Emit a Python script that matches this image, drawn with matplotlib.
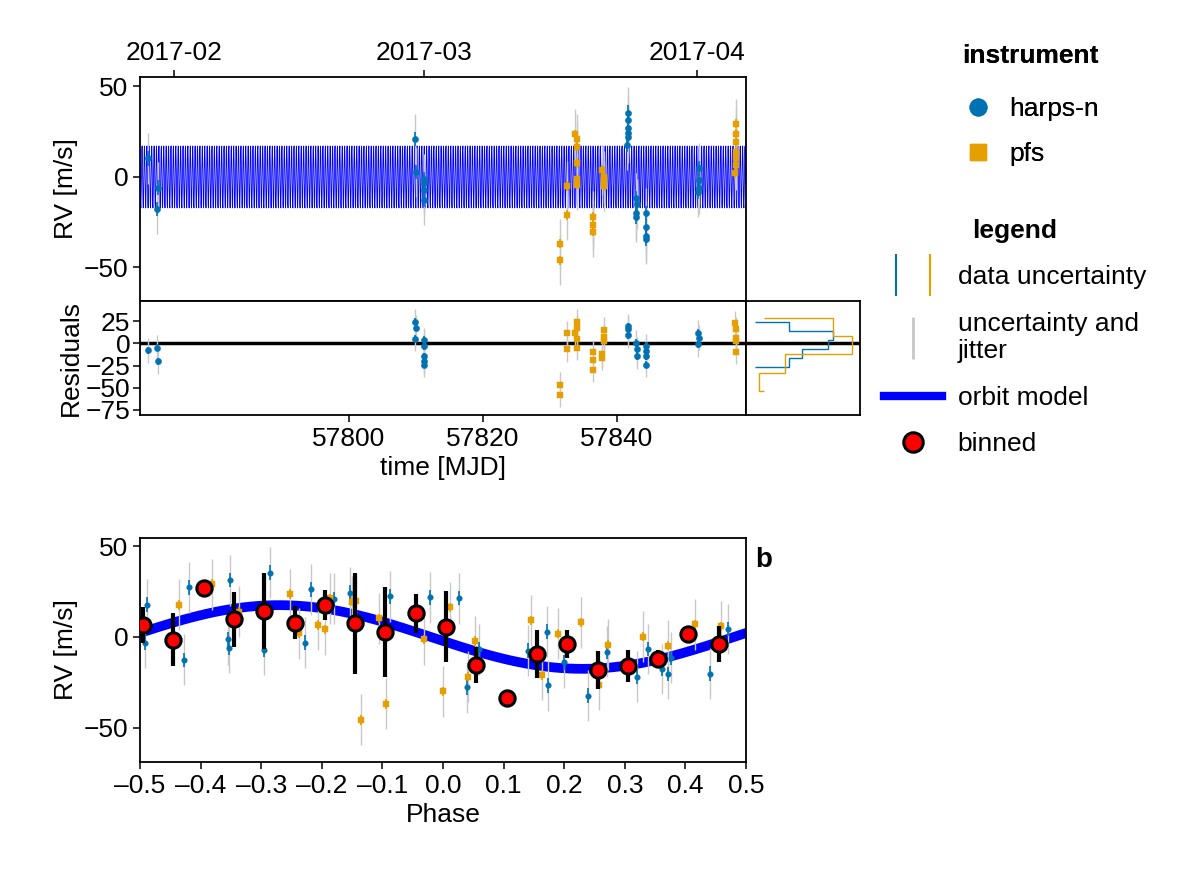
import numpy as np
import matplotlib.pyplot as plt
from matplotlib.lines import Line2D
from matplotlib.legend_handler import HandlerTuple

plt.rcParams['font.family'] = 'Liberation Sans'
plt.rcParams['font.size'] = 19

BLUE = '#0072b2'
ORANGE = '#e69f00'
GREY = '#c8c8c8'

# ---- time series (MJD, m/s) ----
harps_t = [57770.0, 57771.5, 57771.4, 57809.9, 57810.0, 57811.2, 57811.2, 57811.2, 57811.2,
           57841.6, 57841.6, 57841.6, 57841.7, 57841.7, 57841.5, 57842.9, 57843.0, 57842.9, 57842.9,
           57844.3, 57844.3, 57844.3, 57844.3, 57852.2, 57852.2, 57852.2, 57852.1]
harps_rv = [10.3, -5.9, -17.7, 21.0, 2.8, -1.3, -3.1, -7.2, -12.7,
            35.5, 31.5, 26.9, 24.5, 21.9, 17.7, -11.8, -14.9, -20.0, -21.9,
            -20.0, -27.4, -32.6, -34.0, 4.8, -1.7, -6.3, -8.1]
pfs_t = [57831.5, 57831.5, 57832.6, 57832.6, 57833.8, 57834.0, 57834.0, 57834.1, 57834.1, 57834.1,
         57836.4, 57836.4, 57836.4, 57837.8, 57838.0, 57838.1, 57838.1,
         57857.7, 57857.8, 57857.8, 57857.8, 57857.8, 57857.7, 57857.6]
pfs_rv = [-37.0, -45.9, -5.0, -21.0, 23.6, 20.8, 16.8, 7.9, -1.3, -4.4,
          -21.9, -26.5, -30.2, 3.9, 0.2, -1.7, -5.0,
          29.3, 23.8, 19.5, 14.0, 10.3, 6.6, 2.0]

# ---- residuals ----
harps_res_t = [57770.0, 57771.4, 57771.5, 57809.9, 57810.0, 57809.9, 57811.2, 57811.2, 57811.2, 57811.2, 57811.2,
               57841.6, 57841.6, 57841.7, 57842.9, 57843.0, 57843.0, 57844.3, 57844.3, 57844.3, 57844.3,
               57852.1, 57852.2, 57852.1]
harps_res = [-7.6, -4.9, -20.0, 24.2, 17.4, 5.3, 3.8, -3.0, -14.4, -20.0, -23.9,
             19.0, 15.9, 9.0, 0.8, -6.8, -14.4, -3.0, -8.7, -14.4, -23.9,
             12.1, 6.4, -1.1]
pfs_res_t = [57831.5, 57831.5, 57832.6, 57832.6, 57834.1, 57834.0, 57833.8, 57834.0, 57834.1,
             57836.4, 57836.4, 57836.4, 57837.8, 57837.8, 57838.0, 57838.1, 57838.1,
             57857.6, 57857.7, 57857.8, 57857.8, 57857.8]
pfs_res = [-46.6, -58.0, 11.4, -6.8, 24.2, 17.4, 12.1, 5.3, -4.9,
           -9.8, -18.2, -29.5, -12.5, -16.3, 2.7, 15.2, 7.6,
           22.7, 15.9, 6.4, 3.0, -9.8]

# ---- residual histograms (edges in m/s, counts) ----
harps_hist_edges = [-26.8, -17.0, -6.6, 4.0, 13.6, 23.9]
harps_hist_counts = [3.1, 4.3, 6.6, 7.1, 3.1]
pfs_hist_edges = [-53.4, -33.0, -12.5, 8.2, 28.4]
pfs_hist_counts = [0.4, 2.7, 8.8, 7.1]

# ---- phase-folded data ----
harps_ph = [-0.489, -0.491, -0.419, -0.428, -0.351, -0.354, -0.353, -0.285, -0.296, -0.228, -0.218,
            -0.180, -0.153, -0.087, -0.021, 0.027, 0.039, 0.059, 0.140, 0.171, 0.173, 0.200, 0.239,
            0.271, 0.320, 0.339, 0.362, 0.372, 0.377, 0.440, 0.471]
harps_ph_rv = [17.8, -3.1, 27.3, -12.6, 31.3, -1.3, -5.9, 35.3, -7.1, -3.1, 26.2,
               20.9, 24.4, 22.3, 21.8, 21.4, -27.7, -6.8, -7.5, 2.9, -26.6, -13.9, -32.2,
               -8.2, -21.8, -6.6, -17.6, -20.3, -11.5, -20.1, 4.4]
pfs_ph = [-0.436, -0.381, -0.337, -0.252, -0.237, -0.207, -0.194, -0.187, -0.150, -0.143, -0.136,
          -0.105, -0.094, -0.032, 0.000, 0.012, 0.042, 0.052, 0.145, 0.164, 0.189, 0.228, 0.258,
          0.272, 0.330, 0.372, 0.416, 0.459]
pfs_ph_rv = [17.6, 29.1, 13.9, 23.6, 2.0, 6.6, 4.2, 21.2, 19.4, 20.0, -45.6,
             10.3, -36.8, -1.3, -29.8, 16.3, -21.8, -2.2, 9.3, -20.9, 1.8, 8.1, -26.2,
             -4.2, 0.2, -4.8, 7.1, 5.9]

bin_ph = [-0.495, -0.445, -0.395, -0.345, -0.295, -0.245, -0.195, -0.145, -0.095, -0.045,
          0.005, 0.055, 0.105, 0.155, 0.205, 0.255, 0.305, 0.355, 0.405, 0.455]
bin_rv = [6.6, -1.6, 26.7, 9.7, 14.3, 7.9, 17.6, 7.5, 2.9, 13.0,
          5.7, -15.4, -33.3, -9.3, -4.0, -18.1, -15.9, -12.1, 1.6, -4.0]
bin_err = [10.0, 14.6, 0.0, 15.0, 21.0, 9.0, 8.0, 27.7, 24.7, 10.8,
           19.4, 10.0, 0.0, 13.3, 7.6, 10.5, 8.8, 5.0, 0.0, 9.8]

# top-axis date ticks (MJD positions) and bottom MJD ticks
date_ticks = [57773.9, 57811.2, 57851.9]
date_labels = ['2017-02', '2017-03', '2017-04']
mjd_ticks = [57800, 57820, 57840]

# orbit model parameters
K = 17.5
PERIOD = 0.36     # days
PH0 = 0.02

harps_err, pfs_err, jit_err = 4.0, 2.5, 14.0

W, H = 1200, 880
fig = plt.figure(figsize=(W / 100, H / 100), dpi=100)


def axes_px(x0, y0, x1, y1):
    return fig.add_axes([x0 / W, 1 - y1 / H, (x1 - x0) / W, (y1 - y0) / H])


def draw_points(ax, xs, ys, color, marker, err, ms):
    ax.errorbar(xs, ys, yerr=jit_err, fmt='none', ecolor=GREY, elinewidth=1.0, zorder=2)
    ax.errorbar(xs, ys, yerr=err, fmt='none', ecolor=color, elinewidth=1.2, zorder=3)
    ax.plot(xs, ys, marker, color=color, ms=ms, mec=color, mew=0.3, ls='none', zorder=4)


def minus(vals):
    return [str(v).replace('-', '\u2212') for v in vals]


t_lo, t_hi = 57768.8, 57859.25

# ---- top panel ----
ax1 = axes_px(140, 77, 746, 301)
tm = np.arange(t_lo, t_hi, PERIOD / 8)
ax1.plot(tm, K * np.sin(-2 * np.pi * (tm / PERIOD + PH0)), color='blue', lw=0.6, zorder=1)
draw_points(ax1, harps_t, harps_rv, BLUE, 'o', harps_err, 4.5)
draw_points(ax1, pfs_t, pfs_rv, ORANGE, 's', pfs_err, 4)
ax1.set_xlim(t_lo, t_hi)
ax1.set_ylim(-68.5, 55.2)
ax1.set_yticks([-50, 0, 50])
ax1.set_yticklabels(minus([-50, 0, 50]))
ax1.set_ylabel('RV [m/s]')
ax1.xaxis.tick_top()
ax1.set_xticks(date_ticks)
ax1.set_xticklabels(date_labels)

# ---- residuals ----
ax2 = axes_px(140, 301, 746, 415)
ax2.axhline(0, color='black', lw=2.5, zorder=1)
draw_points(ax2, harps_res_t, harps_res, BLUE, 'o', harps_err, 4.5)
draw_points(ax2, pfs_res_t, pfs_res, ORANGE, 's', pfs_err, 4)
ax2.set_xlim(t_lo, t_hi)
ax2.set_ylim(-80.7, 47.7)
ax2.set_yticks([-75, -50, -25, 0, 25])
ax2.set_yticklabels(minus([-75, -50, -25, 0, 25]))
ax2.tick_params(axis='y', pad=2)
ax2.set_ylabel('Residuals', labelpad=2)
ax2.set_xticks(mjd_ticks)
ax2.set_xticklabels([str(v) for v in mjd_ticks])
ax2.set_xlabel('time [MJD]')

# ---- residual histogram ----
ax3 = axes_px(746, 301, 860, 415)
ax3.axhline(0, color='black', lw=2.5, zorder=1)
ax3.stairs(harps_hist_counts, harps_hist_edges, baseline=0, orientation='horizontal',
           color=BLUE, lw=1.0)
ax3.stairs(pfs_hist_counts, pfs_hist_edges, baseline=0.8, orientation='horizontal',
           color=ORANGE, lw=1.0)
ax3.set_xlim(-0.82, 9.55)
ax3.set_ylim(-80.7, 47.7)
ax3.set_xticks([])
ax3.set_yticks([])

# ---- phase panel ----
ax4 = axes_px(140, 538, 746, 762)
pm = np.linspace(-0.5, 0.5, 400)
ax4.plot(pm, K * np.sin(-2 * np.pi * (pm + PH0)), color='blue', lw=7, zorder=1)
draw_points(ax4, harps_ph, harps_ph_rv, BLUE, 'o', harps_err, 4)
draw_points(ax4, pfs_ph, pfs_ph_rv, ORANGE, 's', pfs_err, 4)
ax4.errorbar(bin_ph, bin_rv, yerr=bin_err, fmt='o', color='red', mec='black', mew=2.2,
             ms=11, ecolor='black', elinewidth=3, zorder=5)
ax4.set_xlim(-0.5, 0.5)
ax4.set_ylim(-68.7, 54.4)
ax4.set_yticks([-50, 0, 50])
ax4.set_yticklabels(minus([-50, 0, 50]))
ticks = np.round(np.arange(-0.5, 0.51, 0.1), 1)
ax4.set_xticks(ticks)
ax4.set_xticklabels([f'{v:.1f}'.replace('-', '\u2013') if v != 0 else '0.0' for v in ticks])
ax4.set_xlabel('Phase')
ax4.set_ylabel('RV [m/s]')
ax4.text(1.015, 0.9, 'b', transform=ax4.transAxes, fontsize=20, fontweight='bold',
         ha='left', va='center')

for ax in (ax1, ax2, ax3, ax4):
    for s in ax.spines.values():
        s.set_linewidth(1.3)
    ax.tick_params(direction='out', length=5, width=1.1)

# ---- legends ----
inst = [Line2D([], [], marker='o', color=BLUE, ls='none', ms=12),
        Line2D([], [], marker='s', color=ORANGE, ls='none', ms=11)]
leg1 = fig.legend(inst, ['harps-n', 'pfs'], loc='upper left', bbox_to_anchor=(938 / W, 1 - 28 / H),
                  title='instrument', frameon=False, fontsize=19, handlelength=1.2,
                  labelspacing=0.8, handletextpad=0.6,
                  title_fontproperties={'weight': 'bold', 'size': 19})
leg1.get_title().set_position((0, 8))
fig.add_artist(leg1)
h_unc = (Line2D([], [], marker='|', color=BLUE, ls='none', ms=30, mew=1.5),
         Line2D([], [], marker='|', color=ORANGE, ls='none', ms=30, mew=1.5))
h_jit = Line2D([], [], marker='|', color=GREY, ls='none', ms=30, mew=2)
h_orb = Line2D([], [], color='blue', lw=6)
h_bin = Line2D([], [], marker='o', color='red', mec='black', mew=2.2, ls='none', ms=14)
fig.legend([h_unc, h_jit, h_orb, h_bin],
           ['data uncertainty', 'uncertainty and\njitter', 'orbit model', 'binned'],
           handler_map={tuple: HandlerTuple(ndivide=None, pad=0.4)},
           loc='upper left', bbox_to_anchor=(860 / W, 1 - 195 / H),
           title='legend', frameon=False, fontsize=19, handlelength=2.2, handletextpad=0.6,
           labelspacing=0.85, title_fontproperties={'weight': 'bold', 'size': 19})

fig.savefig('out.png', dpi=100)
